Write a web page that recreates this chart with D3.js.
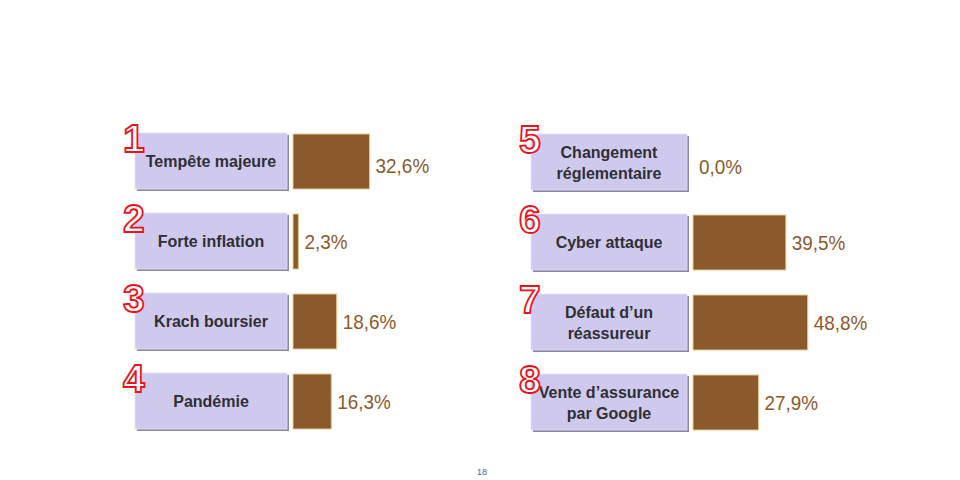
<!DOCTYPE html>
<html><head><meta charset="utf-8">
<script src="https://cdn.jsdelivr.net/npm/d3@7"></script>
<style>body{margin:0;background:#fff}svg{display:block}</style>
</head><body>
<svg id="chart" width="960" height="480"></svg>
<script>
const ranks = ["1","2","3","4","5","6","7","8"];
const categories = [
  ["Tempête majeure"],
  ["Forte inflation"],
  ["Krach boursier"],
  ["Pandémie"],
  ["Changement","réglementaire"],
  ["Cyber attaque"],
  ["Défaut d’un","réassureur"],
  ["Vente d’assurance","par Google"]
];
const values = [32.6, 2.3, 18.6, 16.3, 0.0, 39.5, 48.8, 27.9];
const pageNumber = "18";

const svg = d3.select("#chart");
const fr = d3.formatLocale({decimal: ",", thousands: " ", grouping: [3], currency: ["", " €"]});
const fmt = d => fr.format(".1f")(d) + "%";

const data = values.map((v, i) => ({rank: ranks[i], lines: categories[i], value: v, col: Math.floor(i / 4), row: i % 4}));

const colX = d3.scaleBand().domain([0, 1]).range([135, 931]);
const y = d3.scaleBand().domain([0, 1, 2, 3]).range([133, 429]).paddingInner(0.3);
const x = d3.scaleLinear().domain([0, 50]).range([0, 117.5]);

const boxWs = [152, 156], gap = 6;
const h = y.bandwidth();

const g = svg.selectAll("g.item").data(data).join("g")
  .attr("class", "item")
  .attr("transform", d => `translate(${colX(d.col) - d.col * 2},${y(d.row) + d.col})`);

// shadow + label box
g.append("rect").attr("x", 2).attr("y", 2).attr("width", d => boxWs[d.col]).attr("height", h).attr("fill", "#8d89a3");
g.append("rect").attr("x", 0).attr("y", 0).attr("width", d => boxWs[d.col]).attr("height", h)
  .attr("fill", "#d0c9ee").attr("stroke", "#e4e0f6").attr("stroke-width", 0.8);

// label text
g.each(function(d) {
  const bw = boxWs[d.col];
  const t = d3.select(this).append("text")
    .attr("text-anchor", "middle")
    .attr("font-family", "Liberation Sans, Arial, sans-serif")
    .attr("font-weight", "bold").attr("font-size", 16).attr("fill", "#2f2f35");
  const n = d.lines.length;
  d.lines.forEach((ln, k) => {
    t.append("tspan").attr("x", bw / 2)
      .attr("y", h / 2 + 2 + (k - (n - 1) / 2) * 21)
      .attr("dominant-baseline", "middle").text(ln);
  });
});

// bars
g.filter(d => d.value > 0).append("rect")
  .attr("x", d => boxWs[d.col] + gap).attr("y", 1)
  .attr("width", d => x(d.value)).attr("height", h - 1)
  .attr("fill", "#8a5a2c").attr("stroke", "#e3c98f").attr("stroke-width", 1);

// value labels
g.append("text")
  .attr("transform", d => `translate(${boxWs[d.col] + gap + x(d.value) + 6},${h / 2 + (d.row === 0 ? 6 : 2)}) scale(0.9,1)`)
  .attr("dominant-baseline", "middle")
  .attr("font-family", "Liberation Sans, Arial, sans-serif")
  .attr("font-size", 21).attr("fill", "#8a5a2c")
  .text(d => fmt(d.value));

// rank numbers
g.append("text")
  .attr("x", -12).attr("y", 19)
  .attr("font-family", "Liberation Sans, Arial, sans-serif")
  .attr("font-weight", "bold").attr("font-size", 39)
  .attr("fill", "#ffffff").attr("stroke", "#e8141c").attr("stroke-width", 1.8)
  .text(d => d.rank);

// page number
svg.append("text").attr("x", 482).attr("y", 475).attr("text-anchor", "middle")
  .attr("font-family", "Liberation Sans, Arial, sans-serif").attr("font-size", 9)
  .attr("fill", "#5b5b8c").text(pageNumber);
</script>
</body></html>
